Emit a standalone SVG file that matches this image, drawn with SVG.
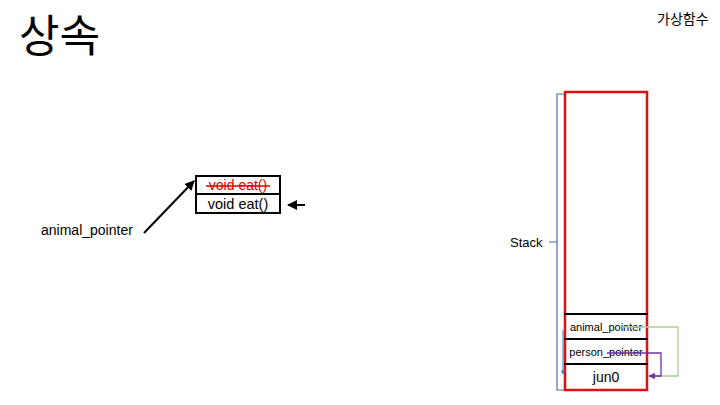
<svg xmlns="http://www.w3.org/2000/svg" width="720" height="405" viewBox="0 0 720 405">
<defs>
<style>
.t{font-family:"Noto Sans CJK KR","Liberation Sans",sans-serif;fill:#000}
.s{font-family:"Liberation Sans","Noto Sans",sans-serif;fill:#000}
.row{fill:#fff;stroke:#000;stroke-width:2}
</style>
<marker id="ab" viewBox="0 0 10 10" refX="9" refY="5" markerWidth="5" markerHeight="5" orient="auto"><path d="M0,0 L10,5 L0,10 z" fill="#000"/></marker>
<marker id="ap" viewBox="0 0 10 10" refX="9" refY="5" markerWidth="5" markerHeight="5" orient="auto"><path d="M0,0 L10,5 L0,10 z" fill="#7030a0"/></marker>
<marker id="abl" viewBox="0 0 10 10" refX="9" refY="5" markerWidth="4" markerHeight="4" orient="auto"><path d="M0,0 L10,5 L0,10 z" fill="#4472c4"/></marker>
</defs>
<rect width="720" height="405" fill="#fff"/>
<g id="title"><text class="t" x="19" y="52" font-size="44">상속</text></g>
<g id="subtitle"><text class="t" x="657" y="24" font-size="14">가상함수</text></g>
<g id="label-animal"><text class="s" x="41" y="235" font-size="14">animal_pointer</text></g>
<g id="vtable">
<rect class="row" x="196" y="176" width="84" height="18"/>
<rect class="row" x="196" y="194" width="84" height="19"/>
<text class="s" x="238" y="190" font-size="14" text-anchor="middle" style="fill:#e00000">void eat()</text>
<line x1="206" y1="186" x2="270" y2="186" stroke="#e00000" stroke-width="1.5"/>
<text class="s" x="238" y="209" font-size="14.5" text-anchor="middle">void eat()</text>
</g>
<g id="stack-label"><text class="s" x="510" y="247" font-size="13">Stack</text></g>
<g id="stack">
<rect x="565" y="92" width="82" height="298" fill="#fff" stroke="#e01010" stroke-width="2.5"/>
<line x1="564" y1="314" x2="648" y2="314" stroke="#000" stroke-width="2"/>
<line x1="564" y1="339" x2="648" y2="339" stroke="#000" stroke-width="2"/>
<line x1="564" y1="364" x2="648" y2="364" stroke="#000" stroke-width="2"/>
</g>
<g id="cell-animal"><text class="s" x="606" y="331" font-size="11" text-anchor="middle">animal_pointer</text></g>
<g id="cell-person"><text class="s" x="606" y="356" font-size="11" text-anchor="middle">person_pointer</text></g>
<g id="cell-jun0"><text class="s" x="606" y="382" font-size="14" text-anchor="middle">jun0</text></g>
<g id="connectors" fill="none">
<line x1="144" y1="233" x2="194" y2="181" stroke="#000" stroke-width="2" marker-end="url(#ab)"/>
<line x1="305" y1="205" x2="288" y2="205" stroke="#000" stroke-width="2" marker-end="url(#ab)"/>
<path d="M564,94 H557 V390 H564 M557,242 H549" stroke="#4a6fa8" stroke-width="1.2"/>
<line x1="563" y1="330" x2="563" y2="374" stroke="#4472c4" stroke-width="1" marker-end="url(#abl)"/>
<path d="M622,327 H678 V376 H652" stroke="#a9d18e" stroke-width="1.3"/>
<path d="M607,353 H661 V376 H649" stroke="#7030a0" stroke-width="1.3" marker-end="url(#ap)"/>
</g>
</svg>
